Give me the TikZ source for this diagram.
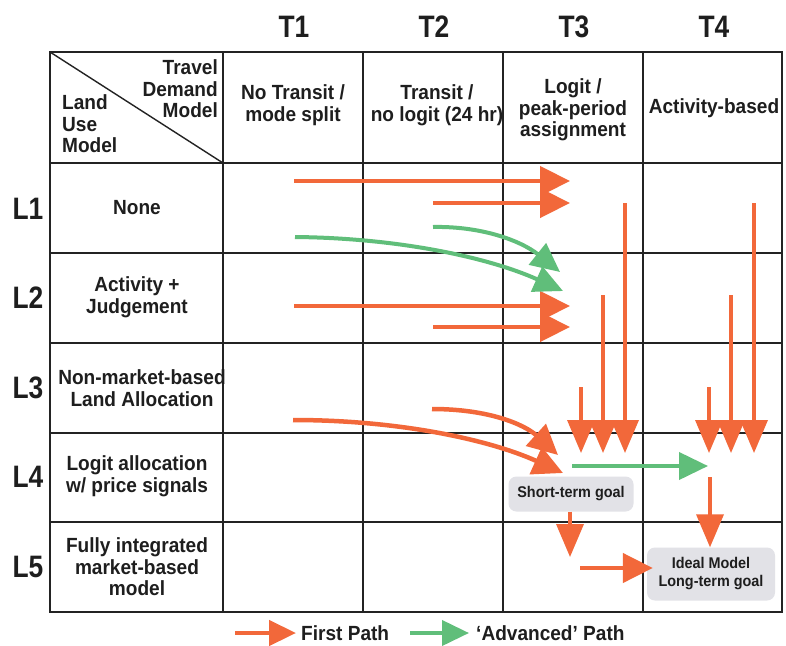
\documentclass[tikz,border=0pt]{standalone}
\usepackage{fontspec}
\setmainfont{Liberation Sans}
\newfontfamily\narrowsans{Liberation Sans}[FakeStretch=0.93]
\newfontfamily\levelsans{Liberation Sans}[FakeStretch=0.85]
\usetikzlibrary{arrows.meta}

\definecolor{pathorange}{RGB}{242,104,58}
\definecolor{pathgreen}{RGB}{96,190,122}
\definecolor{goalgrey}{RGB}{226,226,231}
\definecolor{gridline}{RGB}{35,35,35}
\definecolor{inktext}{RGB}{30,30,30}

\newcommand{\cellfont}{\narrowsans\fontsize{20.5}{21.5}\selectfont\bfseries}
\newcommand{\levelfont}{\levelsans\fontsize{31}{31}\selectfont\bfseries}
\newcommand{\goalfont}{\narrowsans\fontsize{15.5}{18}\selectfont\bfseries}

\tikzset{
  gridthin/.style={draw=gridline, line width=1.4pt},
  gridthick/.style={draw=gridline, line width=1.8pt},
  celltext/.style={font=\cellfont, text=inktext, align=center, inner sep=0pt},
  leveltext/.style={font=\levelfont, text=inktext, inner sep=0pt},
  firstpath/.style={draw=pathorange, line width=4.5pt,
    -{Triangle[length=30pt,width=29pt]}},
  firstdown/.style={draw=pathorange, line width=3.6pt,
    -{Triangle[length=33pt,width=27pt]}},
  advpath/.style={draw=pathgreen, line width=4pt,
    -{Triangle[length=29pt,width=27pt]}},
  goalbox/.style={rounded corners=8pt, fill=goalgrey, font=\goalfont,
    text=inktext, align=center, inner sep=0pt}
}

\begin{document}
\begin{tikzpicture}[x=1pt,y=-1pt]
\useasboundingbox (0,0) rectangle (786,645);
\fill[white] (0,0) rectangle (786,645);

% ---- table grid ----
\foreach \y in {163,253,343,433,522}
  \draw[gridthin] (50,\y) -- (782,\y);
\foreach \x in {223,363,503,643}
  \draw[gridthin] (\x,52) -- (\x,612);
\draw[gridthick] (50,52) rectangle (782,612);
\draw[gridthin] (50,52) -- (223,163);

% ---- column and row levels ----
\node[leveltext] (t1) at (294,27) {T1};
\node[leveltext] (t2) at (434,27) {T2};
\node[leveltext] (t3) at (574,27) {T3};
\node[leveltext] (t4) at (714,27) {T4};

\node[leveltext] (l1) at (28,209) {L1};
\node[leveltext] (l2) at (28,298) {L2};
\node[leveltext] (l3) at (28,388) {L3};
\node[leveltext] (l4) at (28,477) {L4};
\node[leveltext] (l5) at (28,567) {L5};

% ---- corner cell ----
\node[celltext, align=right, anchor=east] (tdm) at (218,89) {Travel\\Demand\\Model};
\node[celltext, align=left, anchor=west] (lum) at (62,124) {Land\\Use\\Model};

% ---- travel demand model headers ----
\node[celltext] (h1) at (293,105) {No Transit /\\mode split};
\node[celltext] (h2) at (437,105) {Transit /\\no logit (24 hr)};
\node[celltext] (h3) at (573,110) {Logit /\\peak-period\\assignment};
\node[celltext] (h4) at (714,108) {Activity-based};

% ---- land use model headers ----
\node[celltext] (r1) at (137,208) {None};
\node[celltext] (r2) at (137,297) {Activity +\\Judgement};
\node[celltext] (r3) at (142,388) {Non-market-based\\Land Allocation};
\node[celltext] (r4) at (137,476) {Logit allocation\\w/ price signals};
\node[celltext] (r5) at (137,567) {Fully integrated\\market-based\\model};

% ---- goals ----
\node[goalbox, minimum width=125pt, minimum height=35pt] (short) at (571,494) {Short-term goal};
\node[goalbox, minimum width=128pt, minimum height=53pt] (ideal) at (711,574) {Ideal Model\\Long-term goal};

% ---- path end points ----
\coordinate (a1s) at (294,181); \coordinate (a1e) at (570,181);
\coordinate (a2s) at (433,203); \coordinate (a2e) at (570,203);
\coordinate (a3s) at (294,306); \coordinate (a3e) at (570,306);
\coordinate (a4s) at (433,327); \coordinate (a4e) at (570,327);
\coordinate (g1s) at (433,227); \coordinate (g1e) at (560,272);
\coordinate (g2s) at (295,237); \coordinate (g2e) at (563,291);
\coordinate (c1s) at (293,420); \coordinate (c1e) at (563,473);
\coordinate (c2s) at (432,409); \coordinate (c2e) at (558,455);
\coordinate (g3s) at (572,466); \coordinate (g3e) at (708,466);

\coordinate (v1s) at (581,387); \coordinate (v1e) at (581,453);
\coordinate (v2s) at (603,295); \coordinate (v2e) at (603,453);
\coordinate (v3s) at (625,203); \coordinate (v3e) at (625,453);
\coordinate (w1s) at (709,387); \coordinate (w1e) at (709,453);
\coordinate (w2s) at (731,295); \coordinate (w2e) at (731,453);
\coordinate (w3s) at (754,203); \coordinate (w3e) at (754,453);

\coordinate (s5e) at (570,557);
\coordinate (s6s) at (580,568);
\coordinate (t4s) at (710,477);

% ---- first paths ----
\draw[firstpath] (a1s) -- (a1e);
\draw[firstpath] (a2s) -- (a2e);
\draw[firstpath] (a3s) -- (a3e);
\draw[firstpath] (a4s) -- (a4e);
\draw[firstpath] (c1s) .. controls (400,420) and (490,440) .. (c1e);
\draw[firstpath] (c2s) .. controls (490,409) and (525,425) .. (c2e);

\draw[firstdown] (v3s) -- (v3e);
\draw[firstdown] (v2s) -- (v2e);
\draw[firstdown] (v1s) -- (v1e);
\draw[firstdown] (w3s) -- (w3e);
\draw[firstdown] (w2s) -- (w2e);
\draw[firstdown] (w1s) -- (w1e);

\draw[firstdown] (short.south -| s5e) -- (s5e);
\draw[firstpath] (s6s) -- ([xshift=6pt]ideal.west |- s6s);
\draw[firstdown] (t4s) -- (ideal.north -| t4s);

% ---- advanced paths ----
\draw[advpath] (g1s) .. controls (480,226) and (520,240) .. (g1e);
\draw[advpath] (g2s) .. controls (400,238) and (490,258) .. (g2e);
\draw[advpath] (g3s) -- (g3e);

% ---- legend ----
\coordinate (k1s) at (235,633); \coordinate (k1e) at (296,633);
\coordinate (k2s) at (410,633); \coordinate (k2e) at (469,633);
\draw[draw=pathorange, line width=4.5pt, -{Triangle[length=27pt,width=25pt]}] (k1s) -- (k1e);
\node[celltext, anchor=west] (k1) at (301,633) {First Path};
\draw[draw=pathgreen, line width=4pt, -{Triangle[length=27pt,width=25pt]}] (k2s) -- (k2e);
\node[celltext, anchor=west] (k2) at (476,633) {‘Advanced’ Path};
\end{tikzpicture}
\end{document}
